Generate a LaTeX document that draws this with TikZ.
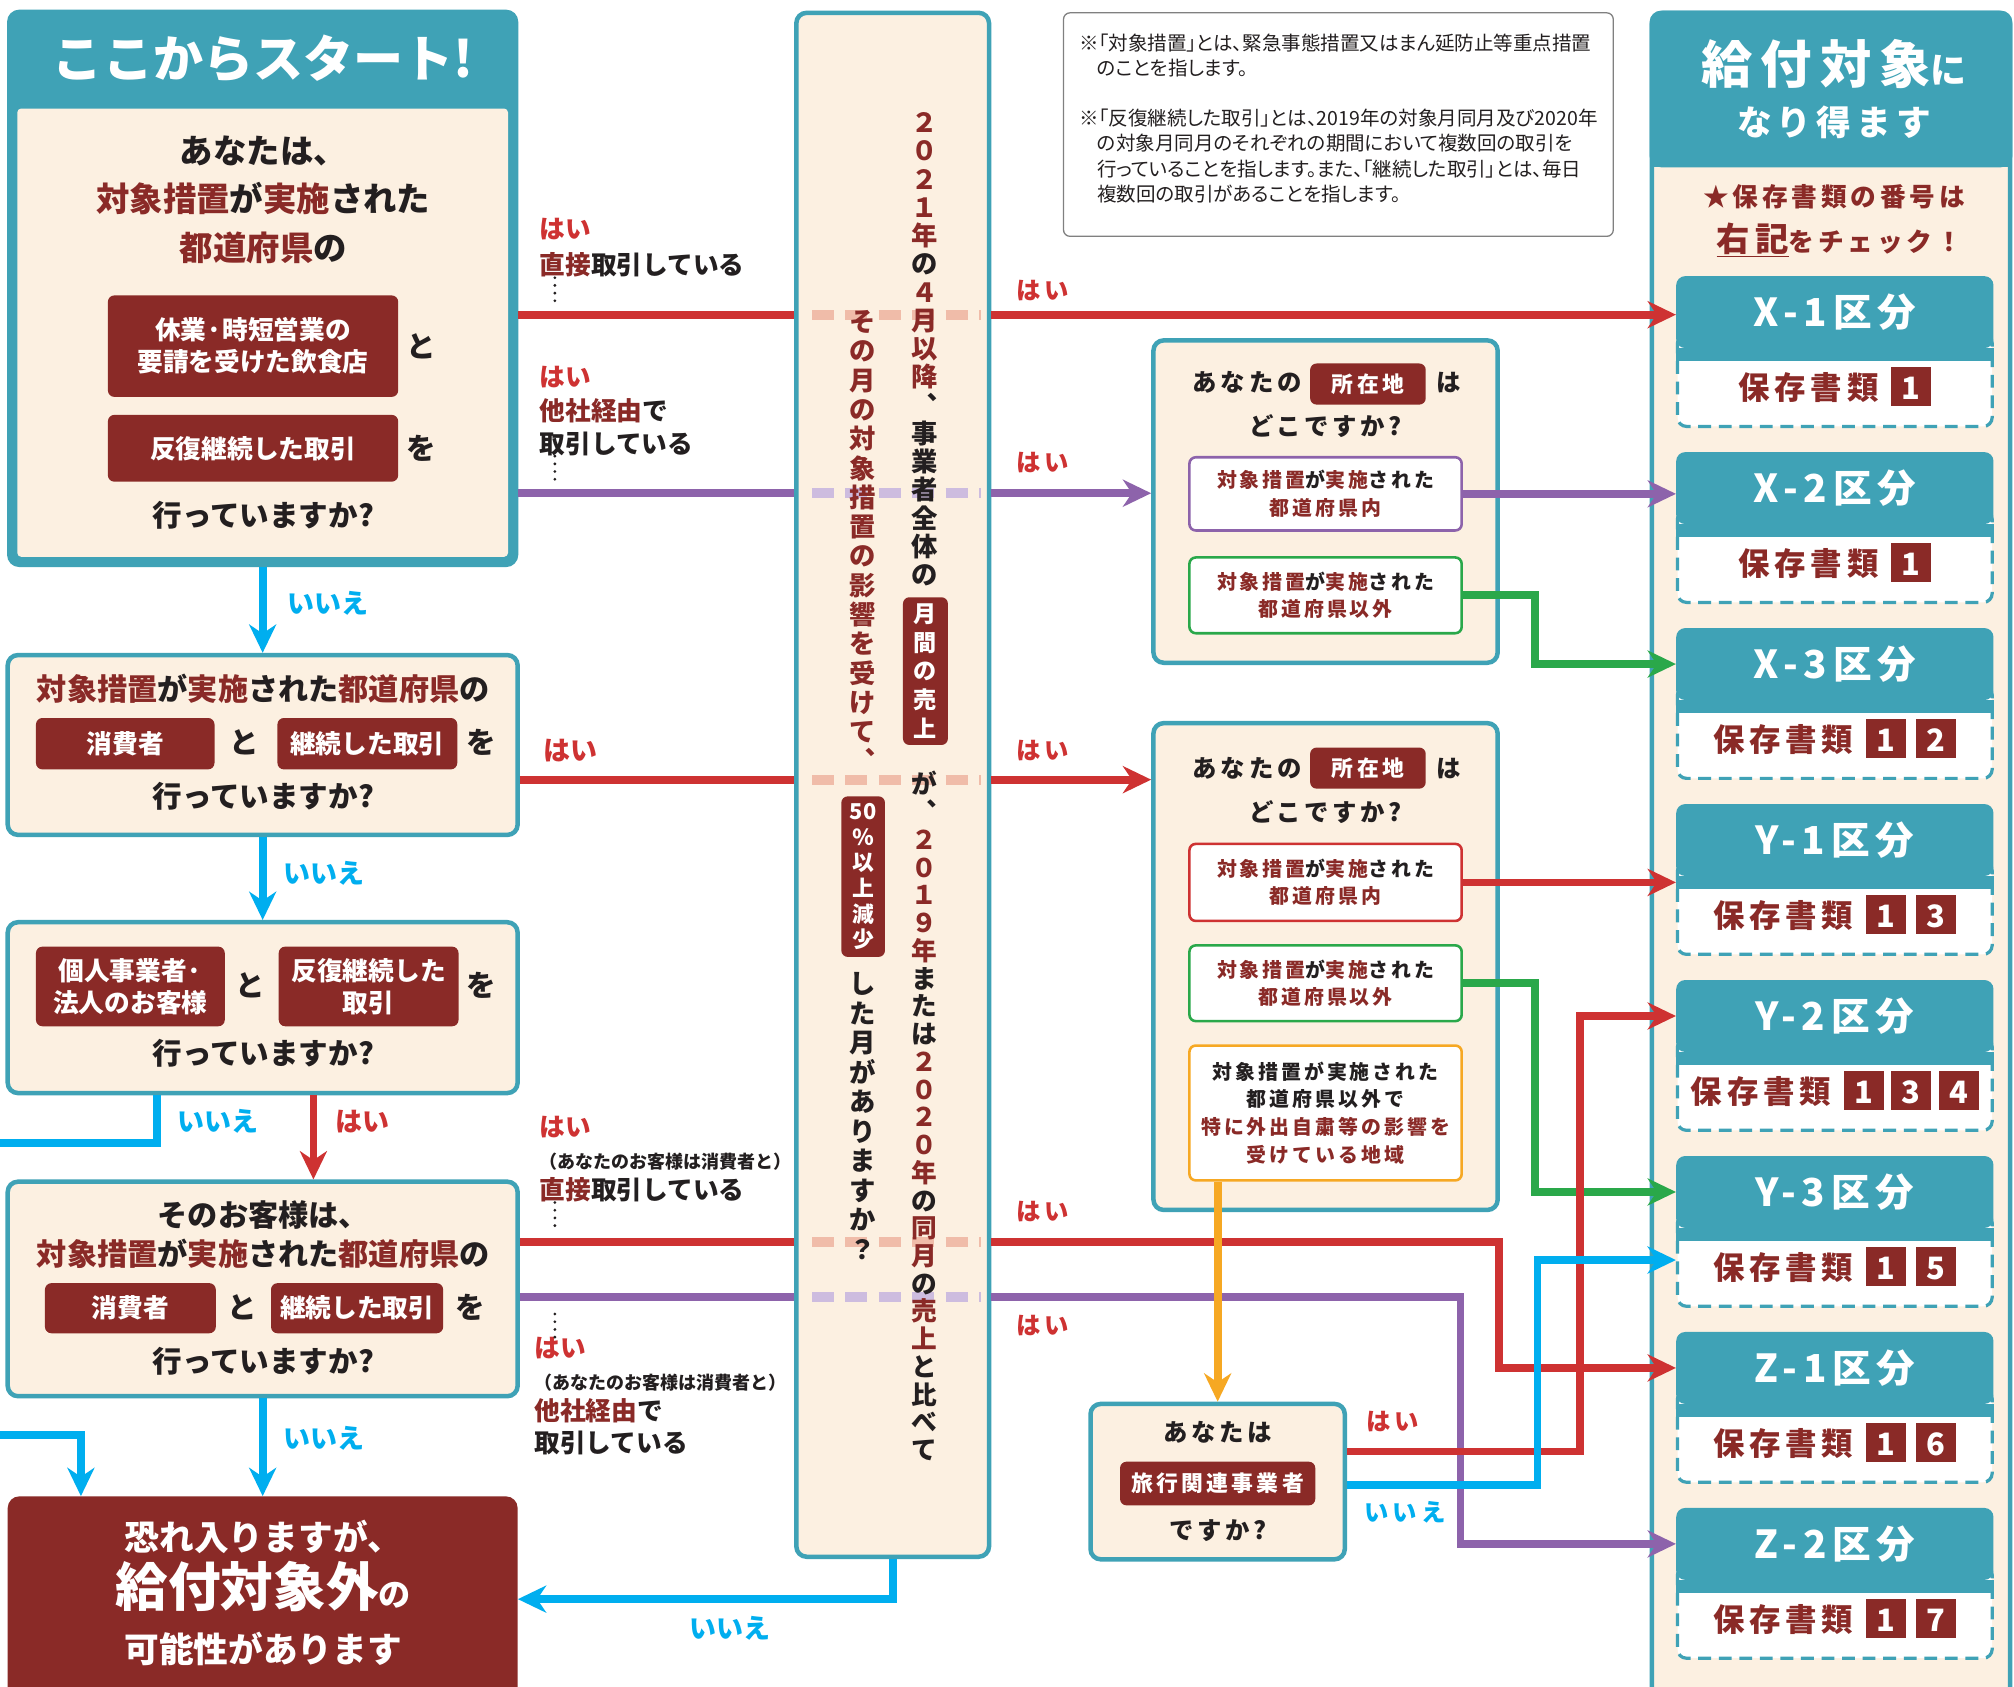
\documentclass[tikz,border=0pt]{standalone}
\usepackage{fontspec}
\setmainfont{Noto Sans CJK JP}
\newfontfamily\widefont{Noto Sans CJK JP}[LetterSpace=15]
\newfontfamily\notefont{Noto Sans CJK JP}[RawFeature=+palt]
\usetikzlibrary{arrows.meta, calc, positioning}

\definecolor{teal0}{HTML}{3FA2B6}
\definecolor{cream}{HTML}{FCF0E1}
\definecolor{dred}{HTML}{8A2A27}
\definecolor{lred}{HTML}{CE3232}
\definecolor{purp}{HTML}{8D63AB}
\definecolor{grn}{HTML}{2AA84A}
\definecolor{cyn}{HTML}{00AEEF}
\definecolor{orng}{HTML}{F6A823}
\definecolor{palered}{HTML}{F0BCA9}
\definecolor{palepurp}{HTML}{CDBCDF}
\definecolor{txt}{HTML}{231F20}

\newcommand\fsz[2]{\fontsize{#1}{#2}\selectfont}
\newcommand\acc[1]{\textcolor{dred}{#1}}
\newcommand\docno[1]{{\setlength\fboxsep{0pt}\colorbox{dred}{\makebox[31pt]{\rule[-5pt]{0pt}{30pt}\textcolor{white}{\normalfont\bfseries\fsz{24}{28}#1}}}}}

\tikzset{
  qbox/.style={draw=teal0, line width=3.5pt, fill=cream, rounded corners=8pt},
  tagbox/.style={fill=dred, text=white, rounded corners=5pt, inner sep=0pt, align=center, font=\fsz{20}{25}\bfseries},
  qtext/.style={text=txt, font=\fsz{23}{28}\bfseries, inner sep=0pt},
  wq/.style={text=txt, font=\widefont\fsz{19}{24}\bfseries, inner sep=0pt},
  subbox/.style={fill=white, line width=2pt, rounded corners=5pt, minimum width=212pt, align=center, inner sep=0pt, text=txt, font=\widefont\fsz{15.5}{21.5}\bfseries},
  hai/.style={text=lred, font=\fsz{21}{24}\bfseries, inner sep=0pt},
  iie/.style={text=cyn, font=\fsz{21}{24}\bfseries, inner sep=0pt},
  ln/.style={line width=6pt},
  arr/.style={-{Stealth[length=22pt,width=21pt,inset=7pt]}},
  leader/.style={txt, line width=2.4pt, dash pattern=on 0pt off 6pt, line cap=round},
  pale/.style={line width=8pt, dash pattern=on 17pt off 9pt},
  vcol/.style={text width=26pt, align=center, inner sep=0pt, text=txt},
  side/.style={anchor=north west, align=left, inner sep=0pt, text=txt},
  cardhead/.style={fill=teal0, rounded corners=7pt, minimum width=247pt, minimum height=56pt, text=white, font=\widefont\fsz{30}{34}\bfseries, inner sep=0pt},
  cardbody/.style={draw=teal0, dash pattern=on 10pt off 6pt, line width=2.5pt, fill=white, rounded corners=7pt, minimum width=245pt, minimum height=72pt, inner sep=0pt},
}

\begin{document}
\begin{tikzpicture}[x=1pt,y=-1pt]
\useasboundingbox (0,0) rectangle (1568,1313);
\fill[white] (0,0) rectangle (1568,1313);
%rows and columns of the lines
\coordinate (rowA) at (0,245);
\coordinate (rowB) at (0,384);
\coordinate (rowC) at (0,607);
\coordinate (rowD) at (0,967);
\coordinate (rowE) at (0,1010);
\coordinate (colD) at (1167,0);
\coordinate (colE) at (1137,0);
\coordinate (colG) at (1195,0);
\coordinate (colH) at (1230,0);
\coordinate (colJ) at (1197,0);
\coordinate (exitL) at (-10,890);
\coordinate (enterL) at (-10,1117);

%start box
\node[draw=teal0, fill=teal0, line width=1pt, rounded corners=9pt, minimum width=397pt, minimum height=433pt] (start) at (204.5,224.5) {};
\fill[cream, rounded corners=3pt] ($(start.south west)+(8,-8)$) rectangle ($(start.north east)+(-8,77)$);
\node[text=white, font=\fsz{39}{46}\bfseries, inner sep=0pt] (stitle) at (205,46) {ここからスタート!};
\node[qtext, font=\fsz{26}{37.5}\bfseries, align=center] (q1) at (205,155.5) {あなたは、\\\acc{対象措置}が\acc{実施}された\\\acc{都道府県}の};
\node[tagbox, minimum width=226pt, minimum height=79pt] (t1) at (197,269.5) {休業·時短営業の\\要請を受けた飲食店};
\node[qtext] (to1) at (328,270) {と};
\node[tagbox, minimum width=226pt, minimum height=52pt] (t2) at (197,349) {反復継続した取引};
\node[qtext] (wo1) at (328,349) {を};
\node[qtext] (ask1) at (205,401) {行っていますか?};

%second question
\node[qbox, minimum width=397pt, minimum height=140pt] (q2) at (204.5,580) {};
\node[qtext, font=\fsz{23.5}{28}\bfseries] (q2t) at (205,536) {\acc{対象措置}が\acc{実施}された\acc{都道府県}の};
\node[tagbox, minimum width=139pt, minimum height=40pt] (t3) at (97.5,579) {消費者};
\node[qtext] (to2) at (190,578) {と};
\node[tagbox, minimum width=140pt, minimum height=40pt] (t4) at (286,579) {継続した取引};
\node[qtext] (wo2) at (375,578) {を};
\node[qtext] (ask2) at (205,620) {行っていますか?};

%third question
\node[qbox, minimum width=397pt, minimum height=133pt] (q3) at (204.5,784.5) {};
\node[tagbox, minimum width=147pt, minimum height=62pt] (t5) at (101.5,768) {個人事業者·\\法人のお客様};
\node[qtext] (to3) at (195,767) {と};
\node[tagbox, minimum width=140pt, minimum height=62pt] (t6) at (287,768) {反復継続した\\取引};
\node[qtext] (wo3) at (375,767) {を};
\node[qtext] (ask3) at (205,820) {行っていますか?};

%fourth question
\node[qbox, minimum width=397pt, minimum height=167pt] (q4) at (204.5,1003.5) {};
\node[qtext, align=center, font=\fsz{23.5}{30}\bfseries] (q4t) at (205,961) {そのお客様は、\\\acc{対象措置}が\acc{実施}された\acc{都道府県}の};
\node[tagbox, minimum width=133pt, minimum height=39pt] (t7) at (101.5,1018.5) {消費者};
\node[qtext] (to4) at (189,1018) {と};
\node[tagbox, minimum width=134pt, minimum height=39pt] (t8) at (278,1018.5) {継続した取引};
\node[qtext] (wo4) at (366,1018) {を};
\node[qtext] (ask4) at (205,1060) {行っていますか?};

%not eligible
\node[fill=dred, rounded corners=9pt, minimum width=397pt, minimum height=160pt] (ng) at (204.5,1245) {};
\node[text=white, text width=380pt, align=center, inner sep=0pt, font=\fsz{27}{43.5}\bfseries] (ngt) at (205,1240) {恐れ入りますが、\\{\fsz{41}{43.5}給付対象外}{\fsz{25}{43.5}の}\\可能性があります};

%middle condition
\node[qbox, minimum width=150pt, minimum height=1202pt] (mid) at (695,611) {};
\draw[pale, palered] ($(mid.west |- rowA)+(14,0)$) -- ($(mid.east |- rowA)+(-8,0)$);
\draw[pale, palepurp] ($(mid.west |- rowB)+(14,0)$) -- ($(mid.east |- rowB)+(-8,0)$);
\draw[pale, palered] ($(mid.west |- rowC)+(14,0)$) -- ($(mid.east |- rowC)+(-8,0)$);
\draw[pale, palered] ($(mid.west |- rowD)+(14,0)$) -- ($(mid.east |- rowD)+(-8,0)$);
\draw[pale, palepurp] ($(mid.west |- rowE)+(14,0)$) -- ($(mid.east |- rowE)+(-8,0)$);
\node[vcol, font=\fsz{20.5}{22}\bfseries] (vr1) at (720,272) {{\color{dred}２\\０\\２\\１\\年}\\の\\{\color{dred}４\\月\\以\\降}\\︑\\事\\業\\者\\全\\体\\の};
\node[tagbox, text width=35pt, minimum height=115pt, font=\fsz{18}{22.5}\bfseries] (vt1) at (720.5,522.5) {月\\間\\の\\売\\上};
\node[vcol, font=\fsz{20}{21.6}\bfseries] (vr2) at (720,869) {が\\︑\\{\color{dred}２\\０\\１\\９\\年}\\ま\\た\\は\\{\color{dred}２\\０\\２\\０\\年}\\の\\{\color{dred}同\\月}\\の\\{\color{dred}売\\上}\\と\\比\\べ\\て};
\node[vcol, text=dred, font=\fsz{20.5}{22.8}\bfseries] (vl1) at (672,421) {そ\\の\\月\\の\\対\\象\\措\\置\\の\\影\\響\\を\\受\\け\\て\\︑};
\node[tagbox, text width=34pt, minimum height=125pt, font=\fsz{17}{20}\bfseries] (vt2) at (672,682.5) {50\\％\\以\\上\\減\\少};
\node[vcol, font=\fsz{20.5}{23}\bfseries] (vl2) at (672,869) {し\\た\\月\\が\\あ\\り\\ま\\す\\か\\？};

%notes
\node[draw=gray, line width=1pt, rounded corners=5pt, minimum width=428pt, minimum height=174pt] (note) at (1042,97) {};
\node[anchor=north west, align=left, inner sep=0pt, text=txt, font=\notefont\fsz{15.2}{19.5}] (notet) at (840,26) {※「対象措置」とは、緊急事態措置又はまん延防止等重点措置\\\hspace*{14pt}のことを指します。\\[20pt]※「反復継続した取引」とは、2019年の対象月同月及び2020年\\\hspace*{14pt}の対象月同月のそれぞれの期間において複数回の取引を\\\hspace*{14pt}行っていることを指します。また、「継続した取引」とは、毎日\\\hspace*{14pt}複数回の取引があることを指します。};

%location boxes
\node[qbox, minimum width=268pt, minimum height=251pt] (loc1) at (1032,390.5) {};
\node[wq] (lq1) at (971,298) {あなたの};
\node[tagbox, font=\widefont\fsz{17}{20}\bfseries, minimum width=90pt, minimum height=32pt] (ls1) at (1065,299) {所在地};
\node[wq] (lh1) at (1128,298) {は};
\node[wq] (lw1) at (1032,332) {どこですか?};
\node[subbox, draw=purp, minimum height=57pt] (in1) at (1032,384.5) {\acc{対象措置}が\acc{実施}された\\\acc{都道府県内}};
\node[subbox, draw=grn, minimum height=59pt] (out1) at (1032,463.5) {\acc{対象措置}が\acc{実施}された\\\acc{都道府県以外}};

\node[qbox, minimum width=268pt, minimum height=379pt] (loc2) at (1032,752.5) {};
\node[wq] (lq2) at (971,598) {あなたの};
\node[tagbox, font=\widefont\fsz{17}{20}\bfseries, minimum width=90pt, minimum height=32pt] (ls2) at (1065,598) {所在地};
\node[wq] (lh2) at (1128,598) {は};
\node[wq] (lw2) at (1032,632) {どこですか?};
\node[subbox, draw=lred, minimum height=60pt] (in2) at (1032,687) {\acc{対象措置}が\acc{実施}された\\\acc{都道府県内}};
\node[subbox, draw=grn, minimum height=59pt] (out2) at (1032,765.5) {\acc{対象措置}が\acc{実施}された\\\acc{都道府県以外}};
\node[subbox, draw=orng, minimum height=105pt] (far) at (1032,866.5) {対象措置が実施された\\都道府県以外で\\\acc{特に外出自粛等の影響を}\\\acc{受けている地域}};

%travel
\node[qbox, minimum width=198pt, minimum height=121pt] (trav) at (948,1153.5) {};
\node[wq] (tq) at (948,1115) {あなたは};
\node[tagbox, font=\widefont\fsz{17}{20}\bfseries, minimum width=152pt, minimum height=34pt] (tt) at (948,1155) {旅行関連事業者};
\node[wq] (tw) at (948,1192) {ですか?};

%goal panel
\node[draw=teal0, fill=cream, line width=3.5pt, rounded corners=9pt, minimum width=279pt, minimum height=1330pt] (goal) at (1425.5,675) {};
\fill[teal0, rounded corners=9pt] (goal.north west) rectangle ($(goal.north east)+(0,122)$);
\fill[teal0] ($(goal.north west)+(0,100)$) rectangle ($(goal.north east)+(0,122)$);
\node[text=white, font=\widefont\fsz{40}{44}\bfseries, inner sep=0pt] (gt1) at (1428,50) {給付対象{\fsz{28}{30}に}};
\node[text=white, font=\widefont\fsz{27}{30}\bfseries, inner sep=0pt] (gt2) at (1428,95) {なり得ます};
\node[text=dred, font=\widefont\fsz{20}{24}\bfseries, inner sep=0pt] (gt3) at (1428,153) {★保存書類の番号は};
\node[text=dred, font=\widefont\fsz{20}{24}\bfseries, inner sep=0pt] (gt4) at (1432,187) {\underline{\fsz{26}{28}右記}をチェック！};
\foreach \nm/\lab/\t/\docs in {x1/X-1/215/\docno{1}, x2/X-2/352/\docno{1}, x3/X-3/489/\docno{1}\hspace{8pt}\docno{2}, y1/Y-1/626/\docno{1}\hspace{8pt}\docno{3}, y2/Y-2/763/\docno{1}\hspace{6pt}\docno{3}\hspace{6pt}\docno{4}, y3/Y-3/900/\docno{1}\hspace{8pt}\docno{5}, z1/Z-1/1037/\docno{1}\hspace{8pt}\docno{6}, z2/Z-2/1174/\docno{1}\hspace{8pt}\docno{7}} {
  \node[cardbody] (b\nm) at (1428.5,\t+81) {};
  \node[cardhead] (h\nm) at (1428.5,\t+28) {\lab 区分};
  \fill[teal0] ($(h\nm.south west)+(0,10)$) rectangle (h\nm.south east);
  \node[inner sep=0pt] (d\nm) at (1428.5,\t+86) {\textcolor{dred}{\widefont\fsz{24.5}{28}\bfseries 保存書類}\hspace{10pt}\docs};
}

%connectors on the left
\draw[ln, cyn, arr] (start.south) -- (q2.north);
\draw[ln, cyn, arr] (q2.south) -- (q3.north);
\draw[ln, cyn] ([xshift=-82.5pt]q3.south) |- (exitL);
\draw[ln, lred, arr] ([xshift=39.5pt]q3.south) -- ([xshift=39.5pt]q4.north);
\draw[ln, cyn, arr] (enterL) -| ([xshift=-141.5pt]ng.north);
\draw[ln, cyn, arr] (q4.south) -- (ng.north);
\draw[ln, cyn, arr] (mid.south) |- (ng.east);
%lines through the middle box
\draw[ln, lred] (start.east |- rowA) -- (mid.west |- rowA);
\draw[ln, lred, arr] (mid.east |- rowA) -- (hx1.west |- rowA);
\draw[ln, purp] (start.east |- rowB) -- (mid.west |- rowB);
\draw[ln, purp, arr] (mid.east |- rowB) -- (loc1.west |- rowB);
\draw[ln, lred] (q2.east |- rowC) -- (mid.west |- rowC);
\draw[ln, lred, arr] (mid.east |- rowC) -- (loc2.west |- rowC);
\draw[ln, purp] (q4.east |- rowE) -- (mid.west |- rowE);
\draw[ln, purp, arr] (mid.east |- rowE) -| (colE |- hz2.west) -- (hz2.west);
\draw[ln, lred] (q4.east |- rowD) -- (mid.west |- rowD);
\draw[ln, lred, arr] (mid.east |- rowD) -| (colD |- hz1.west) -- (hz1.west);
%lines to the cards
\draw[ln, purp, arr] (in1.east) -- (in1.east -| hx2.west);
\draw[ln, grn, arr] (out1.east) -| (colG |- hx3.west) -- (hx3.west);
\draw[ln, lred, arr] (in2.east) -- (in2.east -| hy1.west);
\draw[ln, grn, arr] (out2.east) -| (colG |- hy3.west) -- (hy3.west);
\draw[ln, orng, arr] (far.south -| trav.north) -- (trav.north);
\draw[ln, lred, arr] ([yshift=23.5pt]trav.east) -| (colH |- hy2.west) -- (hy2.west);
\draw[ln, cyn, arr] ([yshift=-2.5pt]trav.east) -| (colJ |- by3.west) -- (by3.west);

%labels
\node[iie] (n1) at (255,470) {いいえ};
\node[iie] (n2) at (252,680) {いいえ};
\node[iie] (n3) at (170,873) {いいえ};
\node[hai] (h0) at (282,873) {はい};
\node[iie] (n4) at (252,1120) {いいえ};
\node[iie] (n5) at (568,1268) {いいえ};
\node[side, font=\fsz{20}{28}\bfseries] (dA) at (420,170) {\textcolor{lred}{はい}\\\acc{直接}取引している};
\draw[leader] ([xshift=12pt]dA.south west) -- ++(0,22);
\node[side, font=\fsz{20}{26}\bfseries] (dB) at (420,285) {\textcolor{lred}{はい}\\\acc{他社経由}で\\取引している};
\draw[leader] ([xshift=12pt]dB.south west) -- ++(0,22);
\node[hai] (hC) at (444,584) {はい};
\node[side, font=\fsz{20}{24.5}\bfseries] (dD) at (420,869) {\textcolor{lred}{はい}\\{\fsz{14}{24.5}（あなたのお客様は消費者と）}\\\acc{直接}取引している};
\draw[leader] ([xshift=12pt]dD.south west) -- ++(0,22);
\node[side, font=\fsz{20}{24.5}\bfseries] (dE) at (416,1041) {\textcolor{lred}{はい}\\{\fsz{14}{24.5}（あなたのお客様は消費者と）}\\\acc{他社経由}で\\取引している};
\draw[leader] ([xshift=16pt]dE.north west) -- ++(0,-24);
\node[hai, font=\widefont\fsz{19}{22}\bfseries] (r1) at (812,226) {はい};
\node[hai, font=\widefont\fsz{19}{22}\bfseries] (r2) at (812,360) {はい};
\node[hai, font=\widefont\fsz{19}{22}\bfseries] (r3) at (812,584) {はい};
\node[hai, font=\widefont\fsz{19}{22}\bfseries] (r4) at (812,943) {はい};
\node[hai, font=\widefont\fsz{19}{22}\bfseries] (r5) at (812,1032) {はい};
\node[hai, font=\widefont\fsz{19}{22}\bfseries] (r6) at (1084,1107) {はい};
\node[iie, font=\widefont\fsz{19}{22}\bfseries] (n6) at (1094,1177) {いいえ};
\end{tikzpicture}
\end{document}
